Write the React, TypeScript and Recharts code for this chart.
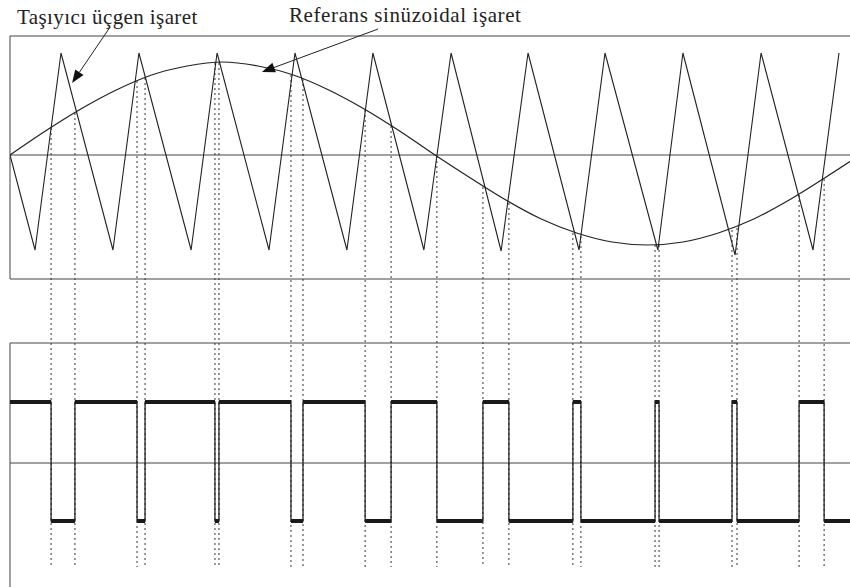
import React from 'react';
import { ComposedChart, Line, XAxis, YAxis, ReferenceLine } from 'recharts';

// x values are the phase of the reference wave, in degrees
// carrier triangle: corner points
const triPhase = [0, 10.6, 21.6, 43.6, 54.6, 76.7, 87.7, 109.7, 120.7, 142.7, 153.7, 175.3, 186.8, 208.0, 219.4, 241.0, 252.0, 274.4, 285.0, 307.1, 318.1, 340.1, 351.1];
const triValue = [0, -0.95, 1.02, -0.95, 1.02, -0.95, 1.02, -0.95, 1.02, -0.95, 1.02, -0.95, 1.02, -0.96, 1.02, -0.95, 1.02, -0.95, 1.02, -1.0, 1.02, -0.95, 1.02];

// reference sine, read every 15 degrees
const refPhase = [0, 15, 30, 45, 60, 75, 90, 105, 120, 135, 150, 165, 180, 195, 210, 225, 240, 255, 270, 285, 300, 315, 330, 345, 360];
const refValue = [0, 0.24, 0.46, 0.65, 0.8, 0.89, 0.93, 0.89, 0.8, 0.65, 0.46, 0.24, 0, -0.23, -0.45, -0.64, -0.78, -0.87, -0.9, -0.87, -0.78, -0.64, -0.45, -0.23, 0];

// crossing points (switching instants) and the reference value there
const switchPhase = [17.4, 27.5, 53.8, 57.2, 86.8, 88.5, 119.0, 124.1, 150.4, 161.4, 180.8, 200.3, 211.3, 238.4, 241.8, 273.2, 274.9, 305.8, 307.9, 334.2, 344.8];
const switchRef = [0.27, 0.42, 0.74, 0.77, 0.92, 0.92, 0.8, 0.76, 0.45, 0.29, -0.01, -0.32, -0.48, -0.78, -0.81, -0.9, -0.9, -0.75, -0.73, -0.4, -0.24];

// output level of each pulse segment
const pwmLevel = [1, -1, 1, -1, 1, -1, 1, -1, 1, -1, 1, -1, 1, -1, 1, -1, 1, -1, 1, -1, 1, -1];

const triData = triPhase.map((x, i) => ({ x, v: triValue[i] }));
const refData = refPhase.map((x, i) => ({ x, v: refValue[i] }));

const pwmStep = [
  { x: 0, v: pwmLevel[0] },
  ...switchPhase.map((x, i) => ({ x, v: pwmLevel[i + 1] })),
  { x: 360, v: pwmLevel[pwmLevel.length - 1] },
];

// thick horizontal parts of the pulses
const pwmBars: { x: number; v: number | null }[] = [];
pwmLevel.forEach((lvl, i) => {
  const start = i === 0 ? 0 : switchPhase[i - 1];
  const end = i === pwmLevel.length - 1 ? 360 : switchPhase[i];
  pwmBars.push({ x: start, v: lvl }, { x: end, v: lvl }, { x: end, v: null });
});

const ink = '#222';
const frame = '#444';

const Arrow = (props: any) => {
  const { x1, y1, x2, y2 } = props;
  const a = Math.atan2(y2 - y1, x2 - x1);
  const len = 13;
  const half = 5;
  const bx = x2 - len * Math.cos(a);
  const by = y2 - len * Math.sin(a);
  const pts = `${x2},${y2} ${bx + half * Math.sin(a)},${by - half * Math.cos(a)} ${bx - half * Math.sin(a)},${by + half * Math.cos(a)}`;
  return (
    <g>
      <line x1={x1} y1={y1} x2={bx} y2={by} stroke={ink} strokeWidth={1} />
      <polygon points={pts} fill="#111" />
    </g>
  );
};

export default function App() {
  return (
    <div style={{ position: 'absolute', left: 0, top: 0, width: 850, height: 587, overflow: 'hidden', background: '#fff' }}>
      <ComposedChart width={860} height={587} margin={{ top: 0, right: 0, bottom: 0, left: 10 }}>
        <XAxis type="number" dataKey="x" domain={[0, 360]} hide allowDataOverflow />
        <YAxis type="number" domain={[-4.32, 1.55]} hide allowDataOverflow />
        <YAxis yAxisId="pwm" type="number" domain={[-2.109, 7.756]} hide allowDataOverflow />

        {/* top panel frame */}
        <ReferenceLine segment={[{ x: 0, y: 1.19 }, { x: 360, y: 1.19 }]} stroke={frame} />
        <ReferenceLine segment={[{ x: 0, y: 0 }, { x: 360, y: 0 }]} stroke={frame} />
        <ReferenceLine segment={[{ x: 0, y: -1.24 }, { x: 360, y: -1.24 }]} stroke={frame} />
        <ReferenceLine segment={[{ x: 0, y: 1.19 }, { x: 0, y: -1.24 }]} stroke={frame} />

        {/* bottom panel frame */}
        <ReferenceLine segment={[{ x: 0, y: -1.88 }, { x: 360, y: -1.88 }]} stroke={frame} />
        <ReferenceLine segment={[{ x: 0, y: -3.08 }, { x: 360, y: -3.08 }]} stroke={frame} />
        <ReferenceLine segment={[{ x: 0, y: -1.88 }, { x: 0, y: -4.32 }]} stroke={frame} />

        {/* dotted projection lines */}
        {switchPhase.map((x, i) => (
          <ReferenceLine
            key={`sw-${i}`}
            segment={[{ x, y: switchRef[i] }, { x, y: -4.12 }]}
            stroke="#333"
            strokeDasharray="2 3"
          />
        ))}

        <Line data={refData} dataKey="v" type="monotone" stroke={ink} strokeWidth={1.2} dot={false} activeDot={false} isAnimationActive={false} />
        <Line data={triData} dataKey="v" type="linear" stroke={ink} strokeWidth={1.1} dot={false} activeDot={false} isAnimationActive={false} />
        <Line yAxisId="pwm" data={pwmStep} dataKey="v" type="stepAfter" stroke={ink} strokeWidth={1.3} dot={false} activeDot={false} isAnimationActive={false} />
        <Line yAxisId="pwm" data={pwmBars} dataKey="v" type="linear" stroke="#1a1a1a" strokeWidth={4} dot={false} activeDot={false} connectNulls={false} isAnimationActive={false} />

        {/* label arrows */}
        <ReferenceLine segment={[{ x: 42.4, y: 1.28 }, { x: 26.3, y: 0.72 }]} shape={Arrow} />
        <ReferenceLine segment={[{ x: 155.9, y: 1.26 }, { x: 106.7, y: 0.83 }]} shape={Arrow} />
      </ComposedChart>
      <svg width={850} height={40} style={{ position: 'absolute', left: 0, top: 0 }}>
        <text x={17} y={24} fontFamily="'Liberation Serif', serif" fontSize={21} letterSpacing={0.4} fill={ink}>Taşıyıcı üçgen işaret</text>
        <text x={289} y={22} fontFamily="'Liberation Serif', serif" fontSize={21} letterSpacing={0.6} fill={ink}>Referans sinüzoidal işaret</text>
      </svg>
    </div>
  );
}
